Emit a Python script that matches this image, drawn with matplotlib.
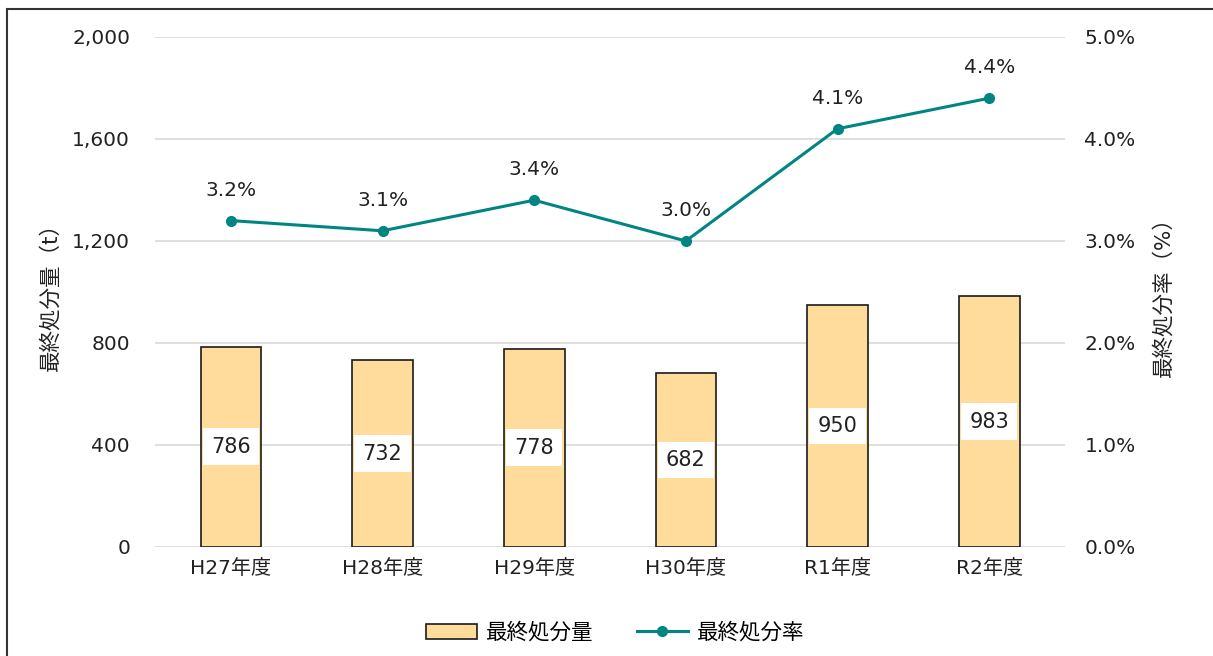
import matplotlib
matplotlib.use("Agg")
import matplotlib.pyplot as plt
from matplotlib.patches import Rectangle
from matplotlib.ticker import FuncFormatter

plt.rcParams['font.family'] = ['DejaVu Sans', 'Noto Sans CJK JP']

#----------------------------------------------------------------------
years = ["H27年度", "H28年度", "H29年度", "H30年度", "R1年度", "R2年度"]
amount = [786, 732, 778, 682, 950, 983]          # 最終処分量 (t)
rate = [3.2, 3.1, 3.4, 3.0, 4.1, 4.4]            # 最終処分率 (%)

barColor = "#FFDC9B"
lineColor = "#008582"
gridColor = "#D9D9D9"
fs = 14.5

#----------------------------------------------------------------------
fig = plt.figure(figsize=(12.13, 6.56), dpi=100)
ax = fig.add_axes([0.1278, 0.1662, 0.7502, 0.7774])
ax2 = ax.twinx()

x = list(range(len(years)))
bars = ax.bar(x, amount, width=0.4, color=barColor, edgecolor="#1a1a1a",
              linewidth=1.2, label="最終処分量", zorder=3)
for xi, v in zip(x, amount):
    ax.text(xi, v / 2, str(v), ha="center", va="center", fontsize=15, zorder=4,
            color="#222222",
            bbox=dict(boxstyle="square,pad=0.4", facecolor="white", edgecolor="none"))

ax2.plot(x, rate, '-o', color=lineColor, linewidth=2.2, markersize=7,
         label="最終処分率", zorder=5)
for xi, r in zip(x, rate):
    ax2.annotate("%.1f%%" % r, (xi, r), xytext=(0, 22), textcoords="offset points",
                 ha="center", va="center", fontsize=fs, color="#222222")

ax.set_xlim(-0.5, len(years) - 0.5)
ax.set_ylim(0, 2000)
ax.set_yticks([0, 400, 800, 1200, 1600, 2000])
ax.yaxis.set_major_formatter(FuncFormatter(lambda v, p: "{:,.0f}".format(v)))
ax2.set_ylim(0, 5)
ax2.set_yticks([0, 1, 2, 3, 4, 5])
ax2.yaxis.set_major_formatter(FuncFormatter(lambda v, p: "%.1f%%" % v))

ax.set_xticks(x)
ax.set_xticklabels(years)
ax.grid(axis="y", color=gridColor, linewidth=1.2, zorder=0)
ax.set_axisbelow(True)
for a in (ax, ax2):
    for s in a.spines.values():
        s.set_visible(False)
    a.tick_params(length=0, labelsize=fs, colors="#222222")
ax.tick_params(axis="y", pad=18)
ax.tick_params(axis="x", pad=9)
ax2.tick_params(axis="y", pad=14)

ax.set_ylabel("最終処分量（t）", fontsize=15.5, labelpad=8, color="#222222")
ax2.set_ylabel("最終処分率（%）", fontsize=15.5, rotation=90, labelpad=12, color="#222222")

h1, l1 = ax.get_legend_handles_labels()
h2, l2 = ax2.get_legend_handles_labels()
fig.legend(h1 + h2, l1 + l2, loc="center", bbox_to_anchor=(0.507, 0.036),
           ncol=2, frameon=False, fontsize=15.5, handlelength=2.4,
           handletextpad=0.4, columnspacing=2.0)

# frame around the chart
fig.add_artist(Rectangle((7 / 1213, -0.1), 1.1, (656 - 9) / 656 + 0.1,
                         transform=fig.transFigure, fill=False,
                         edgecolor="#333333", linewidth=1.5))

fig.savefig("out.png", dpi=100)
